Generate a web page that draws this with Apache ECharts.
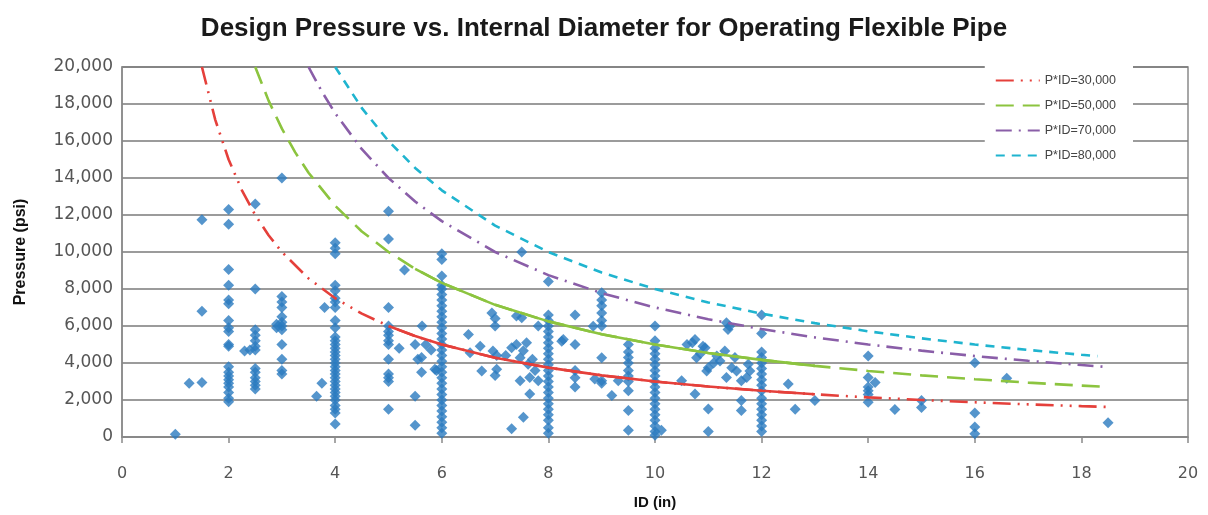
<!DOCTYPE html>
<html><head><meta charset="utf-8">
<script src="https://cdn.jsdelivr.net/npm/echarts@6/dist/echarts.min.js"></script>
<style>html,body{margin:0;padding:0;background:#fff}#c{width:1208px;height:515px}</style>
</head><body><div id="c"></div>
<script>
// Scatter data: [ID (in), Pressure (psi)]
const pipeData = [
 [1.0,150],[1.26,2900],[1.5,2950],[1.5,11750],[1.5,6800],
 [2,12300],[2,11500],[2,9050],[2,8200],[2,7400],[2,7200],[2,6300],[2,5900],[2,5700],[2,5000],[2,4900],[2,3800],[2,3500],[2,3300],[2,3100],[2,2900],[2,2700],[2,2400],[2,2100],[2,1900],
 [2.3,4650],[2.4,4700],
 [2.5,12600],[2.5,8000],[2.5,5800],[2.5,5500],[2.5,5200],[2.5,4900],[2.5,4700],[2.5,3700],[2.5,3500],[2.5,3200],[2.5,3000],[2.5,2800],[2.5,2600],
 [3,14000],[3,7600],[3,7300],[3,7000],[3,6500],[3,6200],[3,6000],[3,5800],[3,5000],[3,4200],[3,3600],[3,3400],[2.9,5900],[2.9,6100],
 [4,10500],[4,10200],[4,9900],[4,8200],[4,7900],[4,7500],[4,7300],[4,7000],[4,6300],[4,5900],[4,5400],[4,5200],[4,5000],[4,4800],[4,4600],[4,4400],[4,4200],[4,4000],[4,3800],[4,3600],[4,3400],[4,3200],[4,3000],[4,2800],[4,2600],[4,2400],[4,2200],[4,2000],[4,1700],[4,1500],[4,1300],[4,700],
 [3.8,7000],[3.75,2900],[3.65,2200],
 [5,12200],[5,10700],[5,7000],[5,6000],[5,5700],[5,5500],[5,5200],[5,5000],[5,4200],[5,3400],[5,3200],[5,3000],[5,1500],
 [5.2,4800],[5.3,9030],[5.63,6000],[5.5,5000],[5.55,4200],[5.62,4300],[5.62,3500],[5.5,2200],[5.5,640],[5.7,5000],[5.8,4700],[5.87,3660],[5.9,3600],
 [6,9900],[6,9600],[6,8700],[6,8200],[6,8000],[6,7700],[6,7400],[6,7100],[6,6800],[6,6500],[6,6200],[6,5900],[6,5600],[6,5300],[6,5000],[6,4700],[6,4400],[6,4100],[6,3800],[6,3500],[6,3200],[6,2900],[6,2600],[6,2300],[6,2000],[6,1700],[6,1400],[6,1100],[6,800],[6,500],[6,200],
 [6.5,5540],[6.72,4910],[6.53,4560],[6.75,3570],[6.94,6700],[7.0,6400],[7.0,6000],[7.03,4400],[6.96,4650],[7.03,3660],[7.0,3320],[7.4,6540],[7.5,6450],[7.5,10000],[7.31,4830],[7.4,5000],[7.47,4290],[7.53,4660],[7.59,5090],[7.62,3930],[7.65,3220],[7.75,3590],[7.81,3040],[7.65,2320],[7.53,1070],[7.31,450],[7.81,6000],[7.47,3040],[7.2,4400],[7.7,4200],
 [8,8400],[8,6600],[8,6300],[8,6000],[8,5700],[8,5400],[8,5100],[8,4800],[8,4500],[8,4200],[8,3900],[8,3600],[8,3300],[8,3000],[8,2700],[8,2400],[8,2100],[8,1800],[8,1500],[8,1200],[8,900],[8,500],[8,200],
 [8.25,5180],[8.28,5270],[8.5,6600],[8.5,5000],[8.5,3600],[8.5,3200],[8.5,2700],[8.84,5990],
 [9,7800],[9,7400],[9,7100],[9,6700],[9,6300],[9,6000],[9,4290],[9,3040],[9,2900],[8.87,3130],[9.19,2240],[9.31,3040],
 [9.5,5000],[9.5,4600],[9.5,4300],[9.5,4000],[9.5,3600],[9.5,3300],[9.5,3000],[9.5,2500],[9.5,1430],[9.5,370],
 [10,6000],[10,5200],[10,4800],[10,4500],[10,4200],[10,3900],[10,3600],[10,3300],[10,3000],[10,2700],[10,2400],[10,2100],[10,1800],[10,1500],[10,1200],[10,900],[10,600],[10,300],[10,100],[10.12,370],
 [10.5,3040],[10.6,5000],[10.75,5270],[10.78,4290],[10.75,2320],[10.94,4830],[10.97,3570],[11.0,1520],[11.0,300],[11.16,4380],[10.9,4910],[11.0,3750],[11.22,4110],[11.31,4650],[11.4,5990],[11.34,6170],[11.44,3750],[11.34,3220],[11.53,3570],[11.62,3040],[11.62,1970],[11.62,1430],[11.75,3930],[11.72,3220],[11.78,3570],[11.37,5810],[10.7,5100],[10.85,4500],[11.1,4000],[11.5,4300],
 [12,6600],[12,5600],[12,4600],[12,4300],[12,4000],[12,3700],[12,3400],[12,3100],[12,2800],[12,2500],[12,2100],[12,1800],[12,1500],[12,1200],[12,900],[12,600],[12,300],
 [12.5,2860],[12.63,1500],[13.0,1970],
 [14,4380],[14,3220],[14.13,2950],[14,2700],[14,2500],[14,2300],[14,1880],[14.5,1480],[15,1970],[15,1600],
 [16,4020],[16,1300],[16,540],[16,180],[16.6,3180],[18.5,770]
];

// Constant P*ID curves
const idRed = [1.5,1.75,2,2.25,2.5,2.75,3,3.5,4,4.5,5,5.5,6,7,8,9,10,11,12,13,14,15,16,17,18,18.5];
const pRed  = [20000,17143,15000,13333,12000,10909,10000,8571,7500,6667,6000,5455,5000,4286,3750,3333,3000,2727,2500,2308,2143,2000,1875,1765,1667,1622];
const idGreen = [2.5,2.75,3,3.25,3.5,4,4.5,5,5.5,6,7,8,9,10,11,12,13,14,15,16,17,18,18.5];
const pGreen  = [20000,18182,16667,15385,14286,12500,11111,10000,9091,8333,7143,6250,5556,5000,4545,4167,3846,3571,3333,3125,2941,2778,2703];
const idPurple = [3.5,3.75,4,4.5,5,5.5,6,7,8,9,10,11,12,13,14,15,16,17,18,18.4];
const pPurple  = [20000,18667,17500,15556,14000,12727,11667,10000,8750,7778,7000,6364,5833,5385,5000,4667,4375,4118,3889,3804];
const idCyan = [4,4.5,5,5.5,6,7,8,9,10,11,12,13,14,15,16,17,18,18.3];
const pCyan  = [20000,17778,16000,14545,13333,11429,10000,8889,8000,7273,6667,6154,5714,5333,5000,4706,4444,4372];

const curveNames = ['P*ID=30,000','P*ID=50,000','P*ID=70,000','P*ID=80,000'];

const zip = (a,b) => a.map((v,i)=>[v,b[i]]);
const red='#e5403b', green='#8cc43f', purple='#8a5ea8', cyan='#1fb4cf';

function curve(name, data, color, dash){
  return {name, type:'line', data, showSymbol:false, symbol:'none', smooth:false, silent:true,
    lineStyle:{color, width:2.6, type:dash}, itemStyle:{color}, z:3};
}
const redD = zip(idRed,pRed), greenD = zip(idGreen,pGreen);

const chart = echarts.init(document.getElementById('c'));
chart.setOption({
  animation:false,
  backgroundColor:'#fff',
  title:{text:'Design Pressure vs. Internal Diameter for Operating Flexible Pipe', left:'center', top:11,
    textStyle:{fontFamily:'Liberation Sans Narrow, Liberation Sans', fontWeight:'bold', fontSize:26, color:'#1a1a1a'}},
  grid:{left:122, right:20, top:67, bottom:75, show:true, borderColor:'#8a8a8a', borderWidth:1.5, backgroundColor:'transparent'},
  legend:{data:curveNames, orient:'vertical', right:75, top:66, backgroundColor:'#fff', padding:[8,17,10,10],
    itemWidth:44, itemHeight:12, itemGap:12,
    itemStyle:{opacity:0},
    textStyle:{fontFamily:'Liberation Sans', fontSize:12.5, color:'#444'}},
  xAxis:{type:'value', min:0, max:20, interval:2,
    name:'ID (in)', nameLocation:'middle', nameGap:58,
    nameTextStyle:{fontFamily:'Liberation Sans', fontWeight:'bold', fontSize:15, color:'#111'},
    axisLine:{show:true, lineStyle:{color:'#8a8a8a', width:1.5}},
    axisTick:{show:true, length:6, lineStyle:{color:'#8a8a8a', width:1.5}},
    axisLabel:{margin:29, fontFamily:'DejaVu Sans', fontSize:16, color:'#555'},
    splitLine:{show:false}},
  yAxis:{type:'value', min:0, max:20000, interval:2000,
    name:'Pressure (psi)', nameLocation:'middle', nameGap:93, nameRotate:90,
    nameTextStyle:{fontFamily:'Liberation Sans', fontWeight:'bold', fontSize:16, color:'#111'},
    axisLine:{show:true, lineStyle:{color:'#8a8a8a', width:1.5}},
    axisTick:{show:false},
    axisLabel:{margin:9, fontFamily:'DejaVu Sans', fontSize:17, color:'#555',
      formatter:v=>v.toLocaleString('en-US')},
    splitLine:{show:true, lineStyle:{color:'#7a7a7a', width:1.5}}},
  series:[
    {name:'Data', type:'scatter', data:pipeData, symbol:'diamond', symbolSize:11,
      itemStyle:{color:'#2b7bbf'}, z:2, silent:true},
    curve(curveNames[0], redD, red, [18,7,2,7,2,7]),
    curve(curveNames[1], greenD, green, [18,9]),
    curve(curveNames[2], zip(idPurple,pPurple), purple, [16,7,2,7]),
    curve(curveNames[3], zip(idCyan,pCyan), cyan, [9,7]),
    curve('redSolid', redD.slice(10,20), red, 'solid'),
    curve('greenSolid', greenD.slice(8,17), green, 'solid')
  ]
});
</script></body></html>
